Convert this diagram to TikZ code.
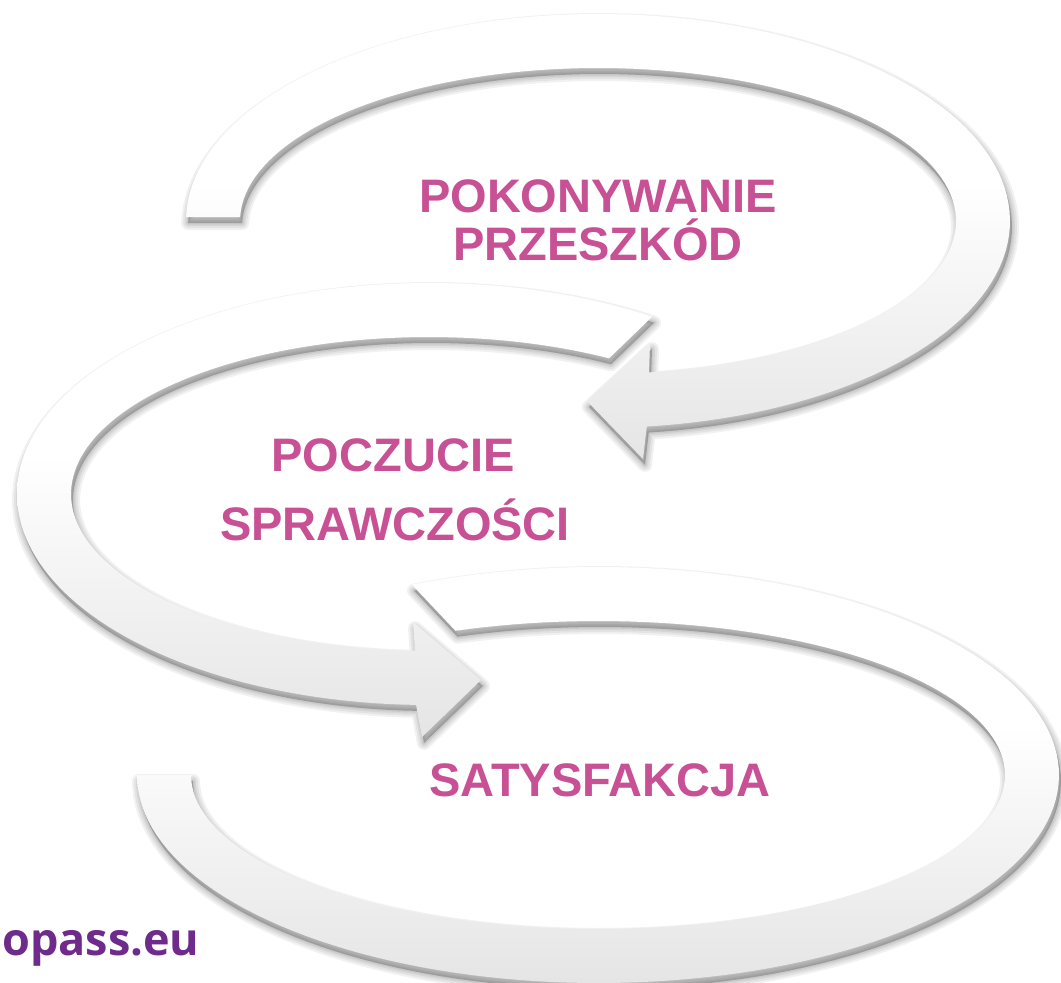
\documentclass[tikz,border=0pt]{standalone}
\usepackage{fontspec}
\setmainfont{Liberation Sans}
\newfontfamily\eufont{Open Sans}
\definecolor{txtpink}{RGB}{200,80,148}
\definecolor{eupurple}{RGB}{110,43,140}
\definecolor{shgray}{RGB}{229,229,229}
\definecolor{shmid}{RGB}{243,243,243}
\pgfdeclareverticalshading{arrshade}{100bp}{color(0bp)=(shgray); color(25bp)=(shgray); color(42bp)=(shmid); color(56bp)=(white); color(100bp)=(white)}
% arrow 1 (top), tail at left, head pointing left
\def\arrowA{plot[domain=181.1:443.2, samples=120, variable=\t] ({598+412*cos(\t)},{221+207*sin(\t)})
  -- (643,459) -- (587,401) -- (650,343)
  -- plot[domain=441.8:181.5, samples=120, variable=\t] ({598+358*cos(\t)},{221+153*sin(\t)}) -- cycle}
% arrow 2 (middle), tail top right, head pointing right
\def\arrowB{plot[domain=-57.2:-268.2, samples=120, variable=\t] ({429+412*cos(\t)},{494+211*sin(\t)})
  -- (422,737) -- (481,680) -- (413,622)
  -- plot[domain=-267.76:-59.8, samples=120, variable=\t] ({429+358*cos(\t)},{494+157*sin(\t)}) -- cycle}
% arrow 3 (bottom), band only
\def\arrowC{plot[domain=-113.8:180, samples=140, variable=\t] ({598+461*cos(\t)},{775+208*sin(\t)})
  -- plot[domain=180:-110.5, samples=140, variable=\t] ({598+407*cos(\t)},{775+154*sin(\t)}) -- cycle}
\newcommand\softshadow[1]{%
  \begin{scope}[shift={(2,6)}]
    \foreach \w in {14,10,6,3}{\draw[line width=\w pt, black, opacity=0.055, line join=round] #1;}
    \fill[black, opacity=0.22] #1;
  \end{scope}}
\tikzset{
  lab/.style={font=\bfseries\fontsize{47}{50}\selectfont, text=txtpink, inner sep=0pt, anchor=base},
  eulab/.style={font=\eufont\bfseries\fontsize{45}{50}\selectfont, text=eupurple, inner sep=0pt, anchor=base west}
}
\begin{document}
\begin{tikzpicture}[x=1pt,y=-1pt]
\useasboundingbox (0,0) rectangle (1061,983);
\clip (0,0) rectangle (1061,983);
\fill[white] (0,0) rectangle (1061,983);
\softshadow{\arrowA}
\softshadow{\arrowB}
\softshadow{\arrowC}
\shade[shading=arrshade] \arrowA;
\shade[shading=arrshade] \arrowB;
\shade[shading=arrshade] \arrowC;
\node[lab] (t1a) at (598,212) {POKONYWANIE};
\node[lab] (t1b) at (598,260) {PRZESZKÓD};
\node[lab] (t2a) at (393,471) {POCZUCIE};
\node[lab] (t2b) at (395,540) {SPRAWCZOŚCI};
\node[lab] (t3) at (600,796) {SATYSFAKCJA};
\node[eulab] (eu) at (2,955) {opass.eu};
\end{tikzpicture}
\end{document}
